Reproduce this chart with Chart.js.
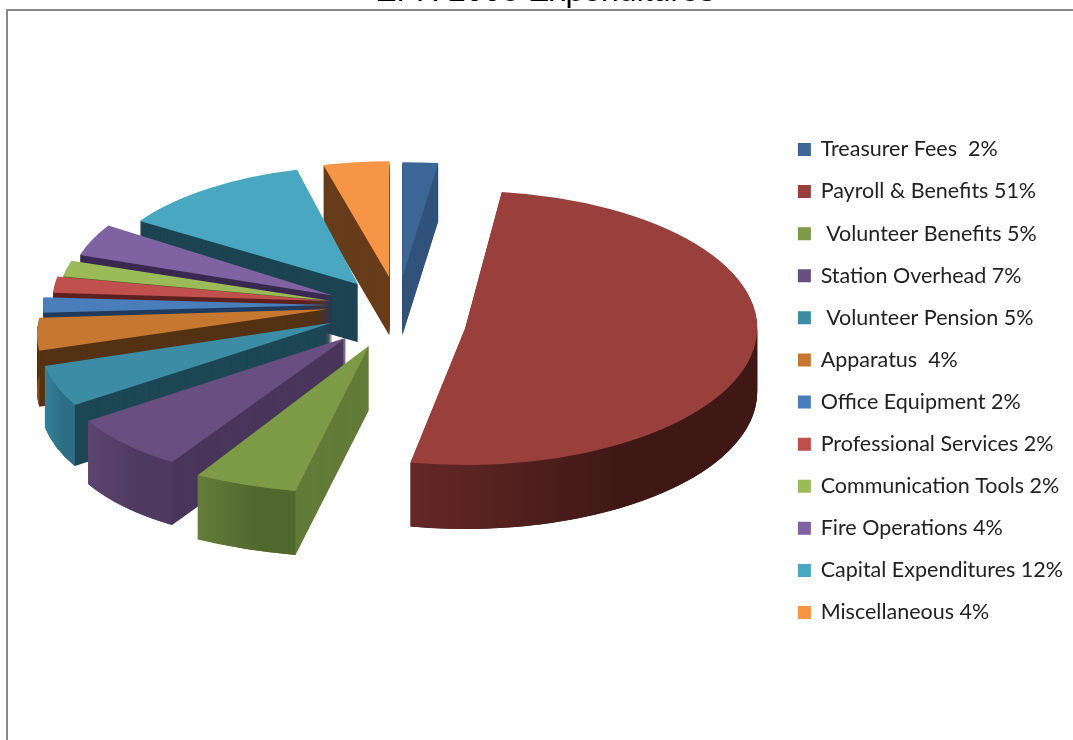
<!DOCTYPE html>
<html>
<head>
<meta charset="utf-8">
<script src="https://cdn.jsdelivr.net/npm/chart.js@4"></script>
<style>
  html, body { margin: 0; background: #fff; overflow: hidden; }
  #frame { position: absolute; left: 6px; top: 9px; width: 1200px; height: 900px; border: 2px solid #8a8a8a; }
  #wrap { position: absolute; left: 0; top: -27px; width: 1073px; height: 816px; }
</style>
</head>
<body>
<div id="frame"></div>
<div id="wrap"><canvas id="pie-chart"></canvas></div>
<script>
const chartTitle = "EFR 2008 Expenditures";
const categories = [
  "Treasurer Fees  2%",
  "Payroll & Benefits 51%",
  " Volunteer Benefits 5%",
  "Station Overhead 7%",
  " Volunteer Pension 5%",
  "Apparatus  4%",
  "Office Equipment 2%",
  "Professional Services 2%",
  "Communication Tools 2%",
  "Fire Operations 4%",
  "Capital Expenditures 12%",
  "Miscellaneous 4%",
];
const shares = [2, 51, 5, 7, 5, 4, 2, 2, 2, 4, 12, 4];

const topColors = ["#3c6696", "#993f3c", "#7d9a47", "#694f81", "#3b8ca4", "#c67831", "#4a7ebb", "#c0504d", "#9bbb59", "#7f62a1", "#4aa7c1", "#f59545"];
const cutColors = ["#31537c", "#4a1c1a", "#637b38", "#4a365b", "#1d4755", "#543214", "#203b5c", "#5c2120", "#4a5a2a", "#3a2a50", "#1d4452", "#673c1b"];
const wallLeft = ["#31537c", "#652826", "#647d39", "#5c4570", "#35809a", "#8a5320", "#2d5584", "#7a2e2c", "#6b8239", "#55416f", "#2f7a90", "#a8632a"];
const wallRight = ["#31537c", "#3f1816", "#50672e", "#4e3a60", "#2d6e86", "#8a5320", "#2d5584", "#7a2e2c", "#6b8239", "#55416f", "#2f7a90", "#a8632a"];

// perspective of the reference: near slices come out bigger than far ones
const wallDepth = [58, 64, 64, 63, 61, 56, 58, 58, 58, 58, 58, 58];
const radiusX = [287, 292, 336, 291, 289, 285, 285, 276, 272, 266, 261, 265];
const radiusY = [115, 137, 148, 142, 140, 134, 125, 130, 130, 131, 118, 116];
const shear = [0, 0, -11, -39, -40, -55, 0, 0, 0, 0, -4, 0];
const explode = [70, 68, 85, 78, 74, 72, 70, 70, 70, 72, 68, 70];
const nudgeY = [0, 13, -2, 0, -3, -7, -5, -5, -1, 0, 0, 0];

// where the 3D pie sits on the canvas
const pieX = 398;
const pieY = 337;
const squash = 0.47;

const pie3d = {
  id: "pie3d",
  beforeDatasetDraw(chart, args) {
    const ctx = chart.ctx;
    const order = args.meta.data
      .map((arc, i) => {
        const mid = (arc.startAngle + arc.endAngle) / 2;
        return {
          arc,
          i,
          tx: pieX + Math.cos(mid) * explode[i],
          ty: pieY + Math.sin(mid) * explode[i] * squash + nudgeY[i],
        };
      })
      .sort((a, b) => a.ty - b.ty);

    order.forEach(({ arc, i, tx, ty }) => {
      const r = arc.outerRadius;
      const flatten = (dy) => {
        ctx.transform(radiusX[i] / r, 0, shear[i] / r, radiusY[i] / r, tx, ty + dy);
      };
      const rimX = (a) => tx + radiusX[i] * Math.cos(a) + shear[i] * Math.sin(a);

      // side faces
      ctx.fillStyle = cutColors[i];
      for (let d = wallDepth[i]; d > 0; d--) {
        ctx.save();
        flatten(d);
        ctx.beginPath();
        ctx.moveTo(0, 0);
        ctx.arc(0, 0, r, arc.startAngle, arc.endAngle);
        ctx.closePath();
        ctx.restore();
        ctx.fill();
      }

      // rim, only the part facing the viewer
      const a0 = Math.max(arc.startAngle, 0);
      const a1 = Math.min(arc.endAngle, Math.PI);
      if (a0 < a1) {
        const grad = ctx.createLinearGradient(rimX(a1), 0, rimX(a0), 0);
        grad.addColorStop(0, wallLeft[i]);
        grad.addColorStop(0.6, wallRight[i]);
        grad.addColorStop(1, wallRight[i]);
        ctx.fillStyle = grad;
        ctx.beginPath();
        ctx.save();
        flatten(0);
        ctx.arc(0, 0, r, a0, a1);
        ctx.restore();
        ctx.save();
        flatten(wallDepth[i]);
        ctx.arc(0, 0, r, a1, a0, true);
        ctx.restore();
        ctx.closePath();
        ctx.fill();
      }

      // top face is the library's own arc, flattened
      ctx.save();
      flatten(0);
      ctx.translate(-arc.x, -arc.y);
      arc.draw(ctx);
      ctx.restore();
    });
    return false;
  },
};

new Chart(document.getElementById("pie-chart"), {
  type: "pie",
  plugins: [pie3d],
  data: {
    labels: categories,
    datasets: [
      {
        data: shares,
        backgroundColor: topColors,
        borderWidth: 0,
        radius: 287,
      },
    ],
  },
  options: {
    responsive: true,
    maintainAspectRatio: false,
    animation: false,
    events: [],
    layout: {
      padding: { top: 0, right: 0, bottom: 0, left: 17 },
    },
    plugins: {
      tooltip: { enabled: false },
      title: {
        display: true,
        text: chartTitle,
        color: "#000",
        padding: 0,
        font: { family: "Liberation Sans", size: 32, weight: "normal" },
      },
      legend: {
        position: "right",
        labels: {
          boxWidth: 11,
          boxHeight: 11,
          padding: 20.6,
          color: "#222",
          font: { family: "Lato", size: 21.5 },
          generateLabels(chart) {
            return Chart.overrides.pie.plugins.legend.labels
              .generateLabels(chart)
              .map((l) => ({ ...l, lineWidth: 2, strokeStyle: l.fillStyle }));
          },
        },
      },
    },
  },
});
</script>
</body>
</html>
